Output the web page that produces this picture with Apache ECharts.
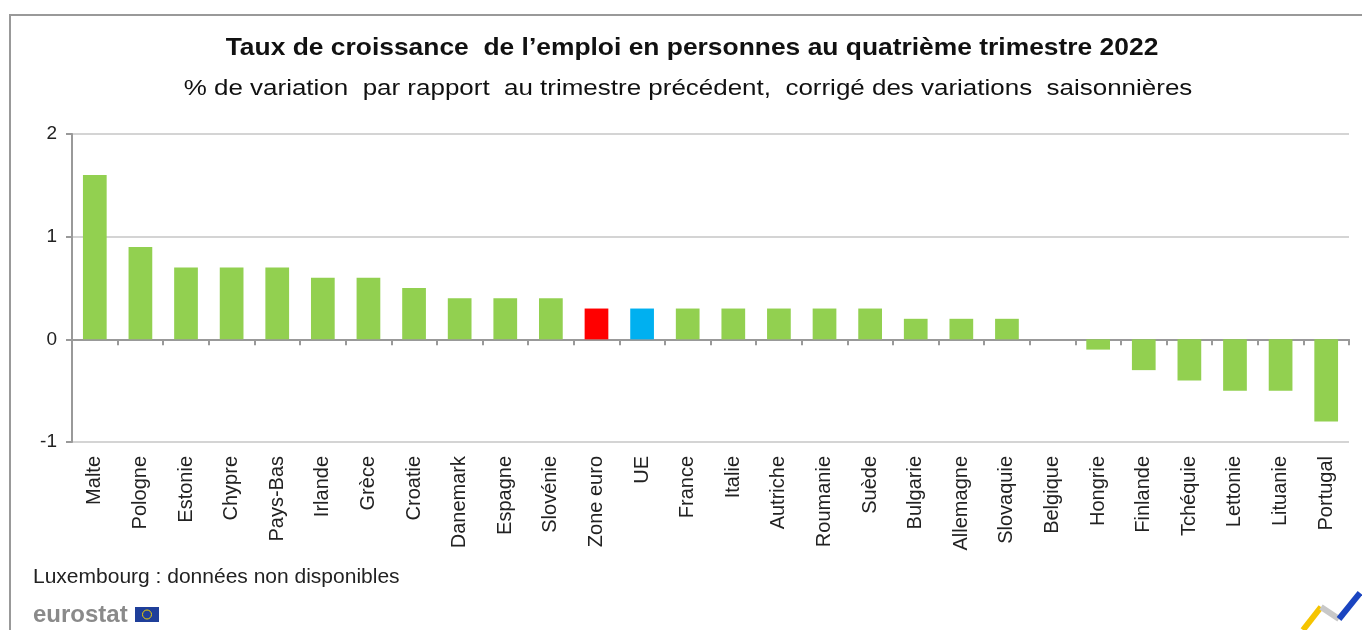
<!DOCTYPE html>
<html>
<head>
<meta charset="utf-8">
<script src="https://cdn.jsdelivr.net/npm/echarts@6/dist/echarts.min.js"></script>
<style>
html,body{margin:0;padding:0;background:#fff;}
#chart{width:1362px;height:630px;}
</style>
</head>
<body>
<div id="chart"></div>
<script>
var pays=['Malte','Pologne','Estonie','Chypre','Pays-Bas','Irlande','Grèce','Croatie','Danemark','Espagne','Slovénie','Zone euro','UE','France','Italie','Autriche','Roumanie','Suède','Bulgarie','Allemagne','Slovaquie','Belgique','Hongrie','Finlande','Tchéquie','Lettonie','Lituanie','Portugal'];
var valeurs=[1.6,0.9,0.7,0.7,0.7,0.6,0.6,0.5,0.4,0.4,0.4,0.3,0.3,0.3,0.3,0.3,0.3,0.3,0.2,0.2,0.2,0,-0.1,-0.3,-0.4,-0.5,-0.5,-0.8];
var yTicks=[-1,0,1,2];
var titre='Taux de croissance  de l\u2019emploi en personnes au quatrième trimestre 2022';
var sousTitre='% de variation  par rapport  au trimestre précédent,  corrigé des variations  saisonnières';
var note='Luxembourg : données non disponibles';

var couleurs={'Zone euro':'#ff0000','UE':'#00b0f0'};
var barData=[];
for(var i=0;i<pays.length;i++){
    barData.push({
        value:valeurs[i],
        itemStyle:{color:couleurs[pays[i]]||'#92d050'}
    });
}

var police='Arial, "Liberation Sans", sans-serif';
var chart=echarts.init(document.getElementById('chart'));
var option={
    animation:false,
    textStyle:{fontFamily:police},
    grid:{left:72,right:13,top:134,bottom:188,containLabel:false},
    xAxis:[
        {
            type:'category',
            data:pays,
            position:'bottom',
            axisLine:{show:false,onZero:false},
            axisTick:{show:false},
            axisLabel:{rotate:90,fontSize:20,color:'#222',margin:14,interval:0}
        },
        {
            type:'category',
            data:pays,
            position:'bottom',
            axisLine:{show:true,onZero:true,lineStyle:{color:'#999',width:2}},
            axisTick:{show:true,interval:0,length:6,lineStyle:{color:'#999',width:2}},
            axisLabel:{show:false,interval:0}
        }
    ],
    yAxis:{
        type:'value',
        min:yTicks[0],max:yTicks[yTicks.length-1],interval:1,
        axisLine:{show:true,lineStyle:{color:'#999',width:2}},
        axisTick:{show:true,length:6,lineStyle:{color:'#999',width:2}},
        axisLabel:{fontSize:19,color:'#222',margin:15},
        splitLine:{show:true,lineStyle:{color:'#d4d4d4',width:2}}
    },
    series:[
        {
            type:'bar',
            xAxisIndex:0,
            barWidth:'52%',
            data:barData
        }
    ],
    graphic:[
        // cadre
        {type:'line',shape:{x1:9,y1:15,x2:1362,y2:15},style:{stroke:'#999',lineWidth:2}},
        {type:'line',shape:{x1:10,y1:15,x2:10,y2:630},style:{stroke:'#999',lineWidth:2}},
        // titres
        {type:'text',x:692,y:48,scaleX:1.10,style:{text:titre,align:'center',verticalAlign:'middle',fontSize:24,fontWeight:'bold',fill:'#111',fontFamily:police}},
        {type:'text',x:688,y:89,scaleX:1.18,style:{text:sousTitre,align:'center',verticalAlign:'middle',fontSize:22,fill:'#111',fontFamily:police}},
        // pied
        {type:'text',x:33,y:577,style:{text:note,verticalAlign:'middle',fontSize:21,fill:'#222',fontFamily:police}},
        {type:'text',x:33,y:615,style:{text:'eurostat',verticalAlign:'middle',fontSize:24,fontWeight:'bold',fill:'#8a8a8a',fontFamily:police}},
        {type:'rect',shape:{x:135,y:607,width:24,height:15},style:{fill:'#1f3f9a'}},
        {type:'circle',shape:{cx:147,cy:614.5,r:4.5},style:{fill:'none',stroke:'#f0d000',lineWidth:1}},
        // logo
        {type:'line',shape:{x1:1303,y1:630,x2:1321,y2:607},style:{stroke:'#f5c400',lineWidth:6}},
        {type:'line',shape:{x1:1321,y1:607,x2:1339,y2:619},style:{stroke:'#c8c8c8',lineWidth:6}},
        {type:'line',shape:{x1:1339,y1:619,x2:1360,y2:593},style:{stroke:'#1a44c0',lineWidth:6}}
    ]
};
chart.setOption(option);
</script>
</body>
</html>
